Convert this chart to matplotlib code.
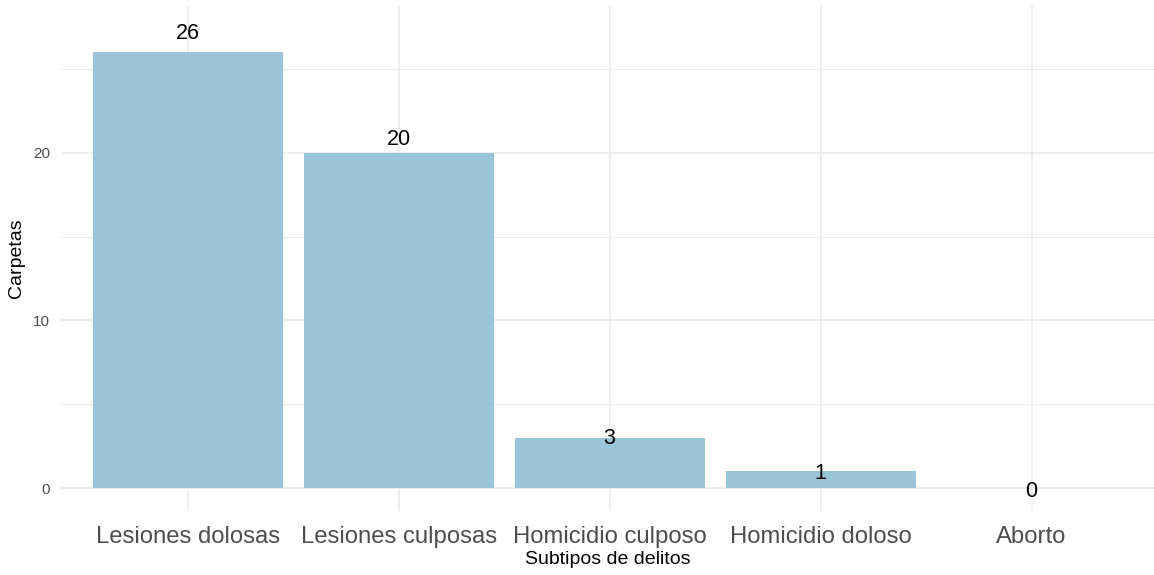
import matplotlib
matplotlib.use("Agg")
import matplotlib.pyplot as plt
import numpy as np

categories = ["Lesiones dolosas", "Lesiones culposas", "Homicidio culposo", "Homicidio doloso", "Aborto"]
values = [26, 20, 3, 1, 0]
y_ticks = [0, 10, 20]
y_minor = [5, 15, 25]
x_title = "Subtipos de delitos"
y_title = "Carpetas"

plt.rcParams['font.family'] = ['Liberation Sans', 'DejaVu Sans']

W, H = 1154, 575
fig = plt.figure(figsize=(W / 100, H / 100), dpi=100)
ax = fig.add_axes([61 / W, (575 - 511) / H, (W - 61) / W, (511 - 6) / H])

x = np.arange(1, len(categories) + 1)
ax.bar(x, values, width=0.9, color="#9AC5D9", zorder=2)

for xi, v in zip(x, values):
    ax.annotate(str(v), (xi, v * 1.05), xytext=(0, -3), textcoords="offset pixels",
                ha="center", va="center", fontsize=15.5, color="black", zorder=3)

ax.set_xlim(0.4, 5.58)
ax.set_ylim(-1.37, 28.77)

ax.set_xticks(x)
ax.set_xticklabels(categories, fontsize=17.2, color="#4D4D4D")
ax.set_yticks(y_ticks)
ax.set_yticklabels([str(t) for t in y_ticks], fontsize=11, color="#4D4D4D")
ax.set_yticks(y_minor, minor=True)
ax.tick_params(axis="both", which="both", length=0)
ax.tick_params(axis="x", pad=11)
ax.tick_params(axis="y", pad=8)

ax.grid(True, which="major", color="#EBEBEB", linewidth=1.2, zorder=0)
ax.grid(True, which="minor", axis="y", color="#EBEBEB", linewidth=0.7, zorder=0)
ax.set_axisbelow(True)
for s in ax.spines.values():
    s.set_visible(False)

ax.set_xlabel(x_title, fontsize=14, labelpad=2)
ax.set_ylabel(y_title, fontsize=14, labelpad=6)

fig.savefig("out.png", dpi=100, facecolor="white")
